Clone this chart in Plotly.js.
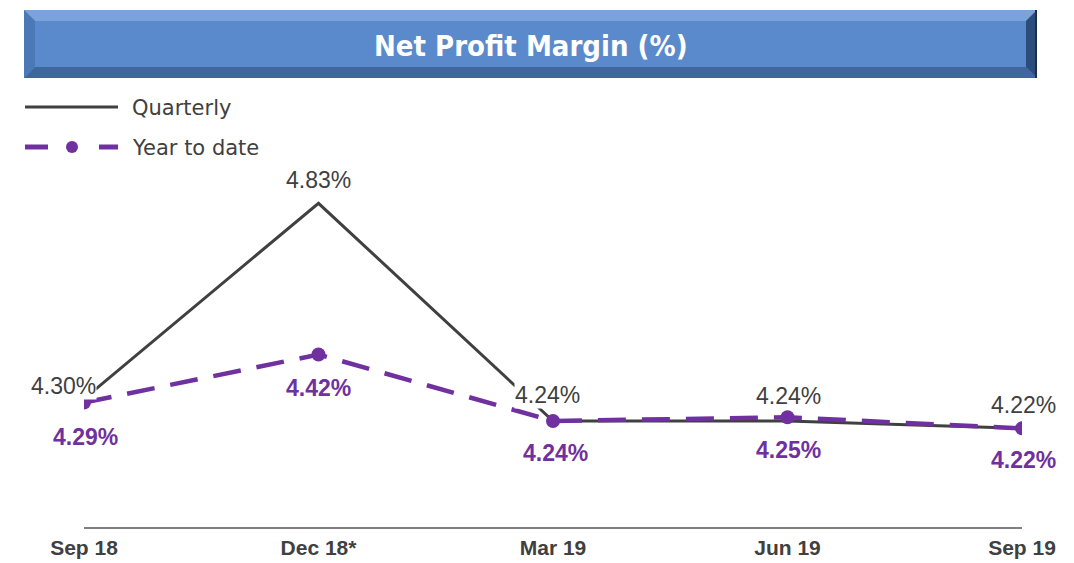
<!DOCTYPE html>
<html>
<head>
<meta charset="utf-8">
<script src="https://cdn.plot.ly/plotly-3.0.1.min.js"></script>
<style>
  html, body { margin: 0; padding: 0; background: #ffffff; }
  #chart { width: 1074px; height: 563px; }
</style>
</head>
<body>
<div id="chart"></div>
<script>
// ---- data ----
const categories = ["Sep 18", "Dec 18*", "Mar 19", "Jun 19", "Sep 19"];
const quarterly = [4.30, 4.83, 4.24, 4.24, 4.22];
const yearToDate = [4.29, 4.42, 4.24, 4.25, 4.22];
const quarterlyLabels = ["4.30%", "4.83%", "4.24%", "4.24%", "4.22%"];
const ytdLabels = ["4.29%", "4.42%", "4.24%", "4.25%", "4.22%"];
const chartTitle = "Net Profit Margin (%)";
const seriesNames = ["Quarterly", "Year to date"];

// ---- styling / layout helpers ----
const W = 1074, H = 563;
const M = { l: 84, r: 52, t: 170, b: 36 };
const PW = W - M.l - M.r, PH = H - M.t - M.b;
const px = x => (x - M.l) / PW;          // pixel -> paper x
const py = y => (H - M.b - y) / PH;      // pixel -> paper y

const grey = "#404040";
const purple = "#7030A0";

// label offsets (pixels) relative to each point
const qShift = [[-21, 13], [0, 23], [-6, 26], [1, 25], [1, 23]];
const yShift = [[1, -34], [0, -33], [2, -32], [1, -33], [1, -32]];

const traces = [
  {
    x: categories, y: quarterly, type: "scatter", mode: "lines",
    name: seriesNames[0],
    line: { color: grey, width: 3 },
    hoverinfo: "skip", showlegend: false
  },
  {
    x: categories, y: yearToDate, type: "scatter", mode: "lines+markers",
    name: seriesNames[1],
    line: { color: purple, width: 4.5, dash: "28px,16px" },
    marker: { color: purple, size: 14, symbol: "circle" },
    hoverinfo: "skip", showlegend: false
  }
];

const annotations = [];
categories.forEach((c, i) => {
  annotations.push({
    x: c, y: quarterly[i], xref: "x", yref: "y",
    text: quarterlyLabels[i], showarrow: false,
    xshift: qShift[i][0], yshift: qShift[i][1],
    font: { family: "Liberation Sans, Arial, sans-serif", size: 23, color: grey },
    bgcolor: "#ffffff", borderpad: 0
  });
  annotations.push({
    x: c, y: yearToDate[i], xref: "x", yref: "y",
    text: ytdLabels[i], showarrow: false,
    xshift: yShift[i][0], yshift: yShift[i][1],
    font: { family: "Liberation Sans, Arial, sans-serif", size: 23, color: purple, weight: "bold" }
  });
});

// title text
annotations.push({
  xref: "paper", yref: "paper", x: px(531), y: py(46),
  text: "<b>" + chartTitle + "</b>", showarrow: false,
  xanchor: "center", yanchor: "middle",
  font: { family: "DejaVu Sans Condensed, DejaVu Sans, sans-serif", size: 29, color: "#ffffff" }
});
// legend text
seriesNames.forEach((n, i) => {
  annotations.push({
    xref: "paper", yref: "paper", x: px(130), y: py(108 + i * 40),
    text: n, showarrow: false, xanchor: "left", yanchor: "middle",
    font: { family: "DejaVu Sans, sans-serif", size: 21, color: grey }
  });
});

// title bar shapes (bevelled box)
const L = 24, R = 1037, T = 10, B = 78, bw = 11, bh = 11;
const pth = pts => "M" + pts.map(p => px(p[0]) + "," + py(p[1])).join("L") + "Z";
const shapes = [
  { type: "path", xref: "paper", yref: "paper", path: pth([[L, T], [R, T], [R, B], [L, B]]), fillcolor: "#5A8ACB", line: { width: 0 }, layer: "below" },
  { type: "path", xref: "paper", yref: "paper", path: pth([[L, T], [R, T], [R - bw, T + bh], [L + bw, T + bh]]), fillcolor: "#7AA3DB", line: { width: 0 }, layer: "below" },
  { type: "path", xref: "paper", yref: "paper", path: pth([[L, B], [R, B], [R - bw, B - bh], [L + bw, B - bh]]), fillcolor: "#3F679E", line: { width: 0 }, layer: "below" },
  { type: "path", xref: "paper", yref: "paper", path: pth([[L, T], [L + bw, T + bh], [L + bw, B - bh], [L, B]]), fillcolor: "#4B78B6", line: { width: 0 }, layer: "below" },
  { type: "path", xref: "paper", yref: "paper", path: pth([[R, T], [R - bw, T + bh], [R - bw, B - bh], [R, B]]), fillcolor: "#2C4D7C", line: { width: 0 }, layer: "below" },
  { type: "line", xref: "paper", yref: "paper", x0: px(R - 1), x1: px(R - 1), y0: py(T), y1: py(B), line: { color: "#1B2E4A", width: 2 }, layer: "below" },
  // legend samples
  { type: "line", xref: "paper", yref: "paper", x0: px(25), x1: px(118), y0: py(107), y1: py(107), line: { color: grey, width: 3 } },
  { type: "line", xref: "paper", yref: "paper", x0: px(25), x1: px(48), y0: py(147), y1: py(147), line: { color: purple, width: 5 } },
  { type: "line", xref: "paper", yref: "paper", x0: px(99), x1: px(118), y0: py(147), y1: py(147), line: { color: purple, width: 5 } },
  { type: "circle", xref: "paper", yref: "paper", x0: px(66), x1: px(78), y0: py(141), y1: py(153), fillcolor: purple, line: { width: 0 } }
];

const layout = {
  width: W, height: H,
  margin: M,
  paper_bgcolor: "#ffffff", plot_bgcolor: "#ffffff",
  showlegend: false,
  xaxis: {
    type: "category", range: [0, 4],
    showgrid: false, zeroline: false,
    showline: true, linecolor: "#7f7f7f", linewidth: 2,
    ticks: "", ticklabelstandoff: 1,
    tickfont: { family: "Liberation Sans, Arial, sans-serif", size: 21, color: grey, weight: "bold" },
    fixedrange: true
  },
  yaxis: {
    range: [3.9527, 4.9202],
    visible: false, showgrid: false, zeroline: false, fixedrange: true
  },
  annotations: annotations,
  shapes: shapes
};

Plotly.newPlot("chart", traces, layout, { displayModeBar: false, staticPlot: true });
</script>
</body>
</html>
